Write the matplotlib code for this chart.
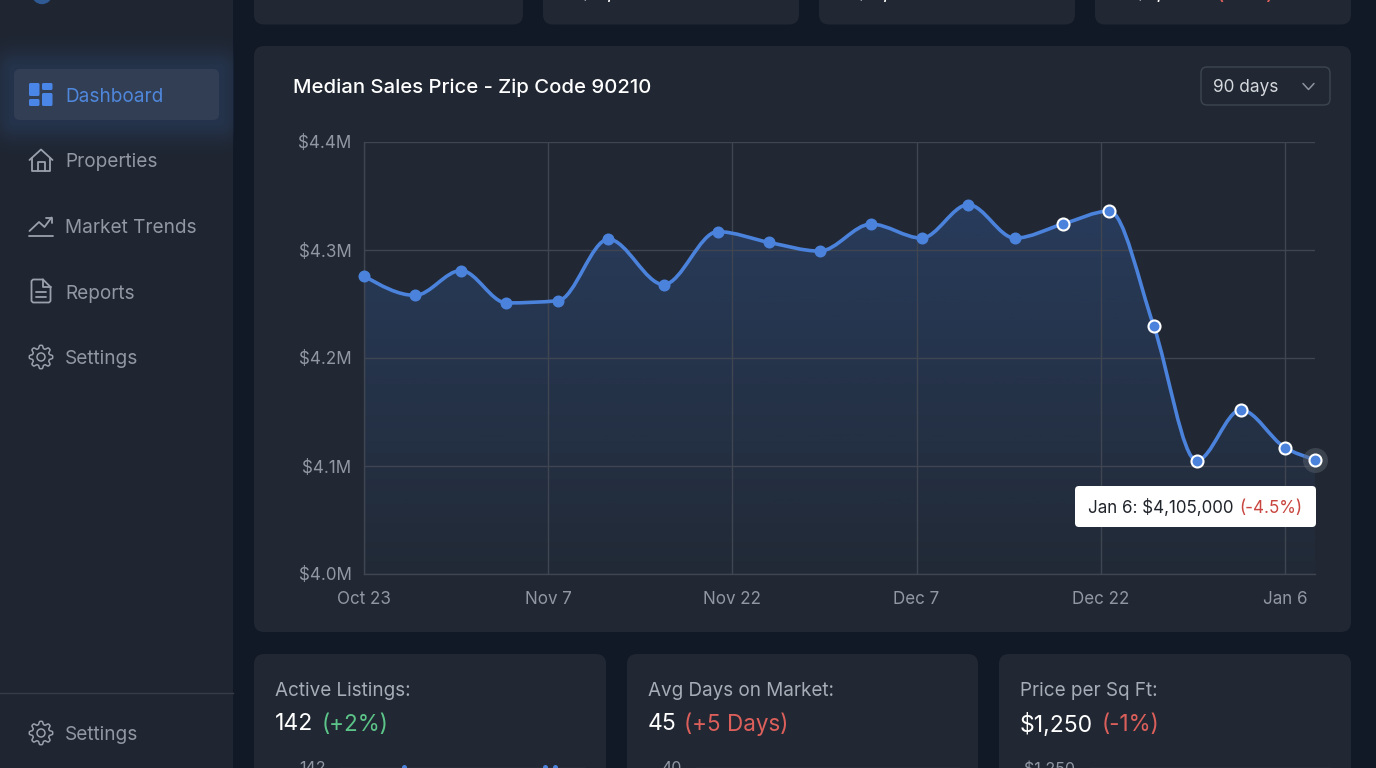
import numpy as np
import matplotlib
matplotlib.use("Agg")
import matplotlib.pyplot as plt
from matplotlib.patches import FancyBboxPatch, PathPatch, Circle, Polygon
from matplotlib.path import Path

# ── 1. Data ───────────────────────────────────────────────────────────────────

days = [0, 4.15, 7.9, 11.6, 15.8, 19.9, 24.4, 28.8, 33.0, 37.1, 41.3, 45.4, 49.2, 53.0,
        56.9, 60.7, 64.3, 67.8, 71.4, 75.0, 77.44]
prices = [4.276, 4.258, 4.281, 4.251, 4.253, 4.310, 4.268, 4.317, 4.307, 4.299, 4.324,
          4.311, 4.342, 4.311, 4.324, 4.336, 4.230, 4.105, 4.152, 4.117, 4.106]
x_ticks = [0, 15, 30, 45, 60, 75]
x_labels = ["Oct 23", "Nov 7", "Nov 22", "Dec 7", "Dec 22", "Jan 6"]
y_ticks = [4.0, 4.1, 4.2, 4.3, 4.4]
y_labels = ["$4.0M", "$4.1M", "$4.2M", "$4.3M", "$4.4M"]
nav_items = ["Dashboard", "Properties", "Market Trends", "Reports", "Settings"]
nav_y = [95, 160, 226, 292, 357]

BG = "#111927"
PANEL = "#212833"
SIDE = "#1f2632"
GRID = "#3f4652"
BLUE = "#4a82dc"
MUTED = "#9298a3"
LABEL = "#a7adb7"
GREEN = "#5cc488"
RED = "#dc5f5b"

plt.rcParams["font.family"] = ["Inter", "DejaVu Sans"]
W, H = 1376, 768


def px(size):
    return size * 0.72


def rbox(ax, x0, y0, x1, y1, r, **kw):
    box = FancyBboxPatch((x0, y0), x1 - x0, y1 - y0, boxstyle=f"round,pad=0,rounding_size={r}", **kw)
    ax.add_patch(box)
    return box


def gear(ax, cx, cy, color):
    angles = np.linspace(0, 2 * np.pi, 145)
    radius = 10.2 + 1.5 * np.clip(1.6 * np.cos(8 * angles), -1, 1)
    ax.add_patch(Polygon(np.c_[cx + radius * np.cos(angles), cy + radius * np.sin(angles)],
                         closed=True, fill=False, ec=color, lw=1.1, joinstyle="round"))
    ax.add_patch(Circle((cx, cy), 4, fill=False, ec=color, lw=1.1))


def line(ax, pts, color, lw=1.3):
    xs, ys = zip(*pts)
    ax.plot(xs, ys, color=color, lw=lw, solid_capstyle="round", solid_joinstyle="round")


def smooth_path(x, y):
    # monotone cubic segments, flat at local peaks and dips
    x, y = np.asarray(x, float), np.asarray(y, float)
    h = np.diff(x)
    s = np.diff(y) / h
    m = np.zeros_like(y)
    for i in range(1, len(y) - 1):
        if s[i - 1] * s[i] > 0:
            p = (s[i - 1] * h[i] + s[i] * h[i - 1]) / (h[i - 1] + h[i])
            m[i] = np.sign(s[i]) * min(abs(s[i - 1]), abs(s[i]), 0.5 * abs(p)) * 2
    m[0] = (3 * s[0] - m[1]) / 2
    m[-1] = (3 * s[-1] - m[-2]) / 2
    verts = [(x[0], y[0])]
    codes = [Path.MOVETO]
    for i in range(len(h)):
        verts += [(x[i] + h[i] / 3, y[i] + m[i] * h[i] / 3),
                  (x[i + 1] - h[i] / 3, y[i + 1] - m[i + 1] * h[i] / 3),
                  (x[i + 1], y[i + 1])]
        codes += [Path.CURVE4] * 3
    return verts, codes


# ── 2. Page background and panels ─────────────────────────────────────────────

fig = plt.figure(figsize=(W / 100, H / 100), dpi=100, facecolor=BG)
bg = fig.add_axes([0, 0, 1, 1], zorder=0)
bg.set_xlim(0, W)
bg.set_ylim(H, 0)
bg.axis("off")

bg.fill_between([0, 233], 0, H, color=SIDE, lw=0)
bg.plot([0, 233], [693, 693], color="#363d49", lw=1)
bg.add_patch(Circle((42, -6), 9.5, color="#2f5a94"))

for x0, x1 in [(254, 523), (543, 799), (819, 1075), (1095, 1351)]:
    rbox(bg, x0, -20, x1, 24.5, 10, fc=PANEL, ec="none")
rbox(bg, 254, 46, 1351, 632, 10, fc=PANEL, ec="none")
for x0, x1 in [(254, 606), (627, 978), (999, 1351)]:
    rbox(bg, x0, 654, x1, 800, 10, fc=PANEL, ec="none")

# cut-off values of the top cards
for x, txt in [(578, "$4,105"), (854, "$4,105"), (1133, "$1,250")]:
    bg.text(x, -1.5, txt, color="white", fontsize=px(23), va="baseline", ha="left")
bg.text(1215, -1.5, "(-1%)", color=RED, fontsize=px(23), va="baseline", ha="left")

# ── 3. Sidebar ────────────────────────────────────────────────────────────────

gx, gy = np.meshgrid(np.arange(0, 233.5, 1.0), np.arange(30, 165, 1.0))
dx = np.maximum(np.maximum(14 - gx, gx - 219), 0)
dy = np.maximum(np.maximum(69 - gy, gy - 120), 0)
glow = np.zeros(gx.shape + (4,))
glow[..., :3] = matplotlib.colors.to_rgb("#3f74c8")
glow[..., 3] = 0.17 * np.exp(-((np.hypot(dx, dy) / 19) ** 2))
bg.imshow(glow, extent=(0, 233.5, 165, 30), origin="upper", aspect="auto", zorder=1)
bg.set_xlim(0, W)
bg.set_ylim(H, 0)
rbox(bg, 14, 69, 219, 120, 6, fc="#323e53", ec="none", zorder=2)

for name, y in zip(nav_items, nav_y):
    bg.text(65, y, name, color="#4f87dc" if name == "Dashboard" else MUTED,
            fontsize=px(19), va="center_baseline", ha="left", zorder=3)
bg.text(65, 733, "Settings", color=MUTED, fontsize=px(19), va="center_baseline", ha="left")

for x0, y0, x1, y1 in [(29, 83, 39.5, 96), (29, 99, 39.5, 106), (42, 83, 52.5, 90), (42, 93, 52.5, 106)]:
    rbox(bg, x0, y0, x1, y1, 1.5, fc="#4a86e8", ec="none", zorder=3)

icon = "#9aa1ac"
line(bg, [(29.5, 160), (41, 149.5), (52.5, 160)], icon)
line(bg, [(32, 158), (32, 171), (50, 171), (50, 158)], icon)
line(bg, [(37.5, 171), (37.5, 162), (44.5, 162), (44.5, 171)], icon)

line(bg, [(29.5, 231), (39, 222), (44.5, 227), (51.5, 217.5)], icon)
line(bg, [(46, 217.5), (51.5, 217.5), (51.5, 222.5)], icon)
line(bg, [(29, 235.5), (52.5, 235.5)], icon)

line(bg, [(43, 279.5), (33, 279.5), (31.5, 281), (31.5, 301), (33, 302.5), (49, 302.5),
          (50.5, 301), (50.5, 287), (43, 279.5)], icon)
line(bg, [(43, 279.5), (43, 287), (50.5, 287)], icon)
line(bg, [(36, 292), (46, 292)], icon)
line(bg, [(36, 297), (46, 297)], icon)

gear(bg, 41, 357, icon)
gear(bg, 41, 733, icon)

# ── 4. Chart header ───────────────────────────────────────────────────────────

bg.text(293, 86, "Median Sales Price - Zip Code 90210", color="white", fontsize=px(20.3),
        fontweight="medium", va="center_baseline", ha="left")
rbox(bg, 1201, 67, 1330, 105, 6, fc=PANEL, ec="#3d4552", lw=1)
bg.text(1213, 86, "90 days", color="#d5d8dd", fontsize=px(17.2), va="center_baseline", ha="left")
line(bg, [(1303, 83.5), (1308.5, 89.5), (1314, 83.5)], "#8d94a0", lw=1.1)

# ── 5. Price chart ────────────────────────────────────────────────────────────

ax = fig.add_axes([364 / W, 1 - 574 / H, (1315 - 364) / W, (574 - 142) / H], zorder=2)
ax.patch.set_alpha(0)
ax.set_xlim(0, 77.44)
ax.set_ylim(4.0, 4.4)
for side in ["top", "right"]:
    ax.spines[side].set_visible(False)
for side in ["left", "bottom"]:
    ax.spines[side].set_color(GRID)
    ax.spines[side].set_linewidth(1)
ax.set_xticks(x_ticks, x_labels)
ax.set_yticks(y_ticks, y_labels, va="center_baseline")
ax.tick_params(length=0, labelcolor=MUTED, labelsize=px(17))
ax.tick_params(axis="x", pad=12.5)
ax.tick_params(axis="y", pad=9)
ax.grid(True, color=GRID, lw=1, zorder=1)
ax.set_axisbelow(True)

verts, codes = smooth_path(days, prices)
area = PathPatch(Path(verts + [(days[-1], 4.0), (days[0], 4.0), (days[0], prices[0])],
                      codes + [Path.LINETO, Path.LINETO, Path.LINETO]),
                 transform=ax.transData, fc="none", ec="none")
ax.add_patch(area)
shade = np.zeros((256, 1, 4))
shade[..., :3] = matplotlib.colors.to_rgb("#3f78d8")
shade[..., 3] = np.linspace(0.25, 0.02, 256)[:, None]
img = ax.imshow(shade, extent=(0, 77.44, 4.0, 4.345), origin="upper", aspect="auto", zorder=0.2)
img.set_clip_path(area)
ax.set_xlim(0, 77.44)
ax.set_ylim(4.0, 4.4)

ax.add_patch(PathPatch(Path(verts, codes), fc="none", ec=BLUE, lw=2.6, capstyle="round",
                       zorder=3, clip_on=False))
ax.plot(days[-1], prices[-1], "o", ms=px(25), color="#5c6470", alpha=0.45, mew=0, zorder=3.5, clip_on=False)
ax.plot(days[:14], prices[:14], "o", ms=px(12), color=BLUE, mew=0, zorder=4, clip_on=False)
ax.plot(days[14:], prices[14:], "o", ms=px(12), mfc=BLUE, mec="white", mew=1.5, zorder=4, clip_on=False)

# ── 6. Tooltip and bottom cards, on top of the chart ──────────────────────────

top = fig.add_axes([0, 0, 1, 1], zorder=3)
top.set_xlim(0, W)
top.set_ylim(H, 0)
top.axis("off")

rbox(top, 1075, 486, 1316, 527, 4, fc="white", ec="none")
top.text(1088, 506.5, "Jan 6: $4,105,000", color="#20242b", fontsize=px(17), va="center_baseline", ha="left")
top.text(1302, 506.5, "(-4.5%)", color="#c9453f", fontsize=px(17), va="center_baseline", ha="right")

stat_titles = ["Active Listings:", "Avg Days on Market:", "Price per Sq Ft:"]
stat_values = ["142", "45", "$1,250"]
stat_changes = ["(+2%)", "(+5 Days)", "(-1%)"]
stat_colors = [GREEN, RED, RED]
title_x = [275, 648, 1020]
change_x = [322, 684, 1102]
mini_labels = ["142", "40", "$1,250"]
mini_label_x = [326, 682, 1075]
mini_line = [(340, 584), (697, 959), (1090, 1330)]

for i in range(3):
    top.text(title_x[i], 689, stat_titles[i], color=LABEL, fontsize=px(18.9), va="center_baseline", ha="left")
    top.text(title_x[i], 722, stat_values[i], color="white", fontsize=px(23), va="center_baseline", ha="left")
    top.text(change_x[i], 722, stat_changes[i], color=stat_colors[i], fontsize=px(22.5), va="center_baseline", ha="left")
    top.text(mini_label_x[i], 767, mini_labels[i], color=MUTED, fontsize=px(16), va="center_baseline", ha="right")
    top.plot(mini_line[i], [767.5, 767.5], color=GRID, lw=1)
top.plot([404, 545, 555], [767, 767, 767], "o", ms=px(5), color=BLUE, mew=0)

fig.savefig("out.png", dpi=100, facecolor=BG)
